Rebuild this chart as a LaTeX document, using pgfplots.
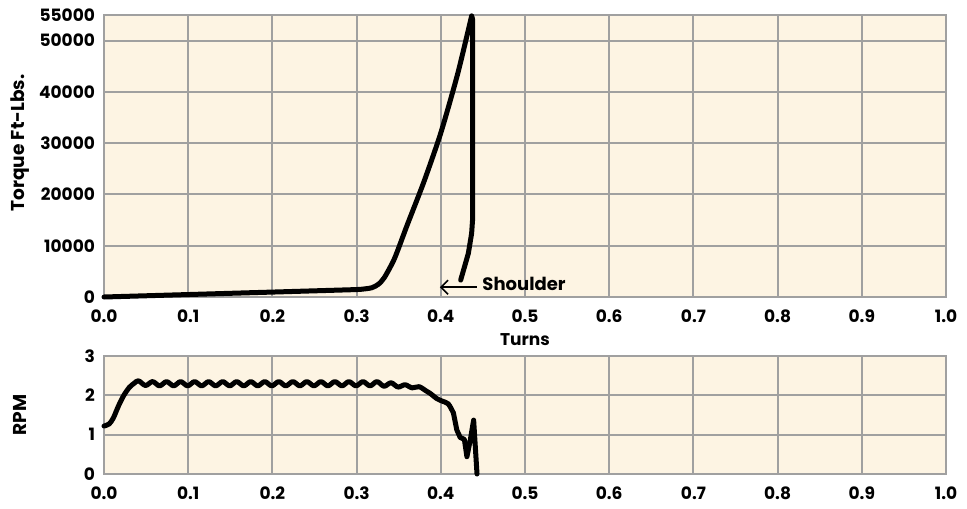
\documentclass[border=0pt]{standalone}
\usepackage{pgfplots}
\pgfplotsset{compat=1.18}
\usepackage{fontspec}
\setmainfont{Poppins}
\usetikzlibrary{arrows.meta}
\definecolor{bgc}{RGB}{253,244,227}
\definecolor{gridc}{RGB}{160,160,160}
\pgfplotsset{
  mystyle/.style={
    scale only axis,
    width=421pt,
    xmin=0, xmax=1,
    xtick={0,0.1,0.2,0.3,0.4,0.5,0.6,0.7,0.8,0.9,1.0},
    axis background/.style={fill=bgc},
    grid=major,
    major grid style={gridc, line width=1pt},
    axis line style={gridc, line width=1pt},
    major tick length=0pt,
    tick label style={font=\fontsize{8.5}{10}\selectfont\bfseries, text=black},
    /pgf/number format/assume math mode=true,
    xticklabel style={/pgf/number format/.cd, fixed, fixed zerofill, precision=1, /tikz/.cd, yshift=-3pt},
    yticklabel style={/pgf/number format/.cd, fixed, 1000 sep={}, /tikz/.cd, xshift=-1pt},
    scaled y ticks=false,
    every axis y label/.style={at={(axis description cs:0,0.5)}, rotate=90, anchor=center, font=\fontsize{9.3}{10}\selectfont\bfseries},
    clip=false,
  }
}
\begin{document}
\begin{tikzpicture}
\useasboundingbox (-52pt,-105.5pt) rectangle (431.5pt,148.5pt);
\begin{axis}[mystyle,
  at={(0pt,0pt)}, anchor=south west,
  height=141pt,
  ymin=0, ymax=55000,
  ytick={0,10000,20000,30000,40000,50000,55000},
  ylabel={Torque Ft-Lbs.},
  every axis y label/.append style={at={([xshift=-42pt,yshift=6.5pt]axis description cs:0,0.5)}},
  xlabel={Turns},
  every axis x label/.style={at={([yshift=-21.5pt]axis description cs:0.5,0)}, anchor=center, font=\fontsize{8.5}{10}\selectfont\bfseries},
]
\addplot[black, line width=2.5pt, line join=round, line cap=round, smooth, tension=0.4] coordinates {
(0,0) (0.10,480) (0.20,960) (0.29,1400) (0.305,1500) (0.318,1800) (0.326,2500) (0.333,3800)
(0.345,7500) (0.36,14000) (0.38,22500) (0.40,32000) (0.42,43500) (0.4366,54800)
};
\addplot[black, line width=2.5pt, line join=round, line cap=round] coordinates {
(0.4366,54800) (0.4377,54200) (0.4377,15000) (0.4366,12400) (0.4327,8500) (0.4236,3300)
};
\draw[black, line width=0.8pt, {Straight Barb[length=3.5pt,width=7pt]}-] (axis cs:0.399,1900) -- (axis cs:0.4426,1900);
\node[anchor=west, font=\fontsize{9}{10}\selectfont\bfseries, inner sep=0pt] at (axis cs:0.449,2500) {Shoulder};
\end{axis}
\begin{axis}[mystyle,
  at={(0pt,-29.5pt)}, anchor=north west,
  height=59pt,
  ymin=0, ymax=3,
  ytick={0,1,2,3},
  ylabel={RPM},
  every axis y label/.append style={at={([xshift=-42pt]axis description cs:0,0.5)}},
]
\addplot[black, line width=2.5pt, line join=round, line cap=round, smooth] coordinates {
(0,1.22) (0.006,1.27) (0.011,1.42) (0.017,1.72) (0.023,1.98) (0.030,2.20) (0.036,2.31) (0.041,2.37)
(0.0493,2.25) (0.0577,2.35) (0.0660,2.24) (0.0743,2.35) (0.0827,2.24) (0.0910,2.35) (0.0993,2.24)
(0.1076,2.35) (0.1160,2.24) (0.1243,2.35) (0.1326,2.24) (0.1410,2.35) (0.1493,2.24) (0.1576,2.35)
(0.1660,2.24) (0.1743,2.35) (0.1826,2.24) (0.1909,2.35) (0.1993,2.24) (0.2076,2.35) (0.2159,2.24)
(0.2243,2.35) (0.2326,2.24) (0.2409,2.35) (0.2493,2.24) (0.2576,2.35) (0.2659,2.24) (0.2742,2.35)
(0.2826,2.24) (0.2909,2.35) (0.2992,2.24) (0.3076,2.35) (0.3159,2.24) (0.3242,2.35) (0.3326,2.23)
(0.3409,2.32) (0.3492,2.21) (0.3575,2.27) (0.3659,2.19) (0.3742,2.22) (0.382,2.12) (0.388,2.04)
(0.395,1.92) (0.402,1.85) (0.409,1.78) (0.415,1.55)
};
\addplot[black, line width=2.5pt, line join=round, line cap=round] coordinates {
(0.415,1.55) (0.419,1.12) (0.423,0.93) (0.428,0.88) (0.431,0.44) (0.435,0.86) (0.439,1.37) (0.443,0.0)
};
\end{axis}
\end{tikzpicture}
\end{document}
